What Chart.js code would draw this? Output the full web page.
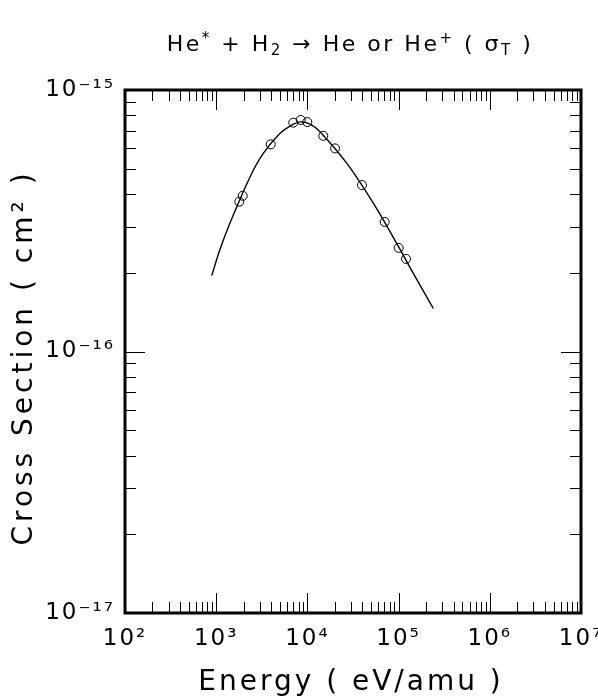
<!DOCTYPE html>
<html><head><meta charset="utf-8">
<script src="https://cdn.jsdelivr.net/npm/chart.js@4/dist/chart.umd.min.js"></script>
<style>html,body{margin:0;padding:0;background:#fff}#wrap{width:598px;height:696px}</style>
</head><body><div id="wrap"><canvas id="c" width="598" height="696"></canvas></div>
<script>
// ---- data ----
const curveEnergy = [893, 1101, 1417, 2348, 3283, 5010, 6445, 8300, 10680, 13740, 26980, 52800, 95300, 144900, 240000];
const curveSigma  = [1.95e-16, 2.46e-16, 3.10e-16, 4.65e-16, 5.72e-16, 6.83e-16, 7.28e-16, 7.55e-16, 7.41e-16, 6.93e-16, 5.25e-16, 3.69e-16, 2.59e-16, 1.99e-16, 1.46e-16];
const pointEnergy = [1791, 1954, 3960, 7000, 8450, 9980, 14930, 20090, 39700, 70400, 100200, 120500];
const pointSigma  = [3.74e-16, 3.94e-16, 6.20e-16, 7.50e-16, 7.68e-16, 7.54e-16, 6.68e-16, 5.98e-16, 4.33e-16, 3.13e-16, 2.49e-16, 2.26e-16];
const xTickLabels = ['10²', '10³', '10⁴', '10⁵', '10⁶', '10⁷'];
const yTickLabels = ['10⁻¹⁷', '10⁻¹⁶', '10⁻¹⁵'];
const titleParts = [['He', 'n'], ['*', 'sup'], [' + H', 'n'], ['2', 'sub'], [' → He or He', 'n'], ['+', 'sup'], [' ( σ', 'n'], ['T', 'sub'], [' )', 'n']];
const xTitle = 'Energy ( eV/amu )';
const yTitle = 'Cross Section ( cm² )';

const FONT = '"DejaVu Sans", sans-serif';

function isDecade(v) { const e = Math.log10(v); return Math.abs(e - Math.round(e)) < 1e-6; }

const spacingPlugin = {
  id: 'spacing',
  beforeUpdate(chart) { chart.ctx.letterSpacing = '2px'; },
  beforeLayout(chart) { chart.ctx.letterSpacing = '2px'; },
  beforeDraw(chart) { chart.ctx.letterSpacing = '2px'; }
};

const framePlugin = {
  id: 'frame',
  afterDraw(chart) {
    const ctx = chart.ctx, a = chart.chartArea;
    const xs = chart.scales.x, ys = chart.scales.y;
    ctx.save();
    ctx.strokeStyle = '#000';
    ctx.lineWidth = 1;
    ctx.beginPath();
    for (let d = 2; d < 7; d++) {
      for (let m = 1; m <= 9; m++) {
        if (m === 1 && d === 2) continue;
        const v = m * Math.pow(10, d);
        const px = Math.round(xs.getPixelForValue(v)) + 0.5;
        const len = m === 1 ? 20 : 11;
        ctx.moveTo(px, a.bottom); ctx.lineTo(px, a.bottom - len);
        ctx.moveTo(px, a.top); ctx.lineTo(px, a.top + len);
      }
    }
    for (let d = -17; d < -15; d++) {
      for (let m = 1; m <= 9; m++) {
        if (m === 1 && d === -17) continue;
        const v = m * Math.pow(10, d);
        const py = Math.round(ys.getPixelForValue(v)) + 0.5;
        const len = m === 1 ? 20 : 11;
        ctx.moveTo(a.left, py); ctx.lineTo(a.left + len, py);
        ctx.moveTo(a.right, py); ctx.lineTo(a.right - len, py);
      }
    }
    ctx.stroke();
    ctx.lineWidth = 3;
    ctx.strokeRect(a.left, a.top, a.right - a.left, a.bottom - a.top);
    ctx.restore();

    // title
    ctx.save();
    ctx.fillStyle = '#000';
    ctx.letterSpacing = '2.5px';
    ctx.textBaseline = 'alphabetic';
    const big = '22px ' + FONT, small = '15px ' + FONT;
    let w = 0;
    for (const [t, k] of titleParts) { ctx.font = k === 'n' ? big : small; w += ctx.measureText(t).width; }
    let x = 350 - w / 2;
    const base = 51;
    for (const [t, k] of titleParts) {
      ctx.font = k === 'n' ? big : small;
      const dy = k === 'sup' ? -8 : (k === 'sub' ? 4 : 0);
      ctx.textAlign = 'left';
      ctx.fillText(t, x, base + dy);
      x += ctx.measureText(t).width;
    }
    // x axis title
    ctx.font = '28px ' + FONT;
    ctx.letterSpacing = '3px';
    ctx.textAlign = 'center';
    ctx.fillText(xTitle, (a.left + a.right) / 2 - 2, 690);
    // y axis title
    ctx.letterSpacing = '4px';
    ctx.translate(32, (a.top + a.bottom) / 2 + 6);
    ctx.rotate(-Math.PI / 2);
    ctx.fillText(yTitle, 0, 0);
    ctx.restore();
  }
};

new Chart(document.getElementById('c'), {
  type: 'line',
  data: {
    datasets: [
      {
        label: 'fit',
        data: curveEnergy.map((e, i) => ({ x: e, y: curveSigma[i] })),
        borderColor: '#000', borderWidth: 1.4, pointRadius: 0,
        tension: 0.35, fill: false
      },
      {
        label: 'data',
        type: 'scatter',
        data: pointEnergy.map((e, i) => ({ x: e, y: pointSigma[i] })),
        showLine: false, pointStyle: 'circle', pointRadius: 4.5,
        borderColor: '#000', borderWidth: 1, backgroundColor: 'rgba(0,0,0,0)'
      }
    ]
  },
  options: {
    responsive: false, devicePixelRatio: 1, animation: false,
    layout: { padding: { top: 90, right: 17, left: 0, bottom: 0 } },
    plugins: { legend: { display: false }, title: { display: false }, tooltip: { enabled: false } },
    scales: {
      x: {
        type: 'logarithmic', min: 100, max: 1e7,
        grid: { display: false }, border: { display: false },
        ticks: {
          autoSkip: false, maxRotation: 0, padding: 4, color: '#000',
          font: { family: FONT, size: 23 },
          callback: (v) => isDecade(v) ? xTickLabels[Math.round(Math.log10(v)) - 2] : ''
        },
        afterFit(s) { s.height = 83; s.paddingLeft = 0; s.paddingRight = 0; }
      },
      y: {
        type: 'logarithmic', min: 1e-17, max: 1e-15,
        grid: { display: false }, border: { display: false },
        ticks: {
          autoSkip: false, padding: 2, color: '#000',
          font: { family: FONT, size: 23 },
          callback: (v) => isDecade(v) ? yTickLabels[Math.round(Math.log10(v)) + 17] : ''
        },
        afterFit(s) { s.width = 125; s.paddingTop = 0; s.paddingBottom = 0; }
      }
    }
  },
  plugins: [spacingPlugin, framePlugin]
});
</script>
</body></html>
